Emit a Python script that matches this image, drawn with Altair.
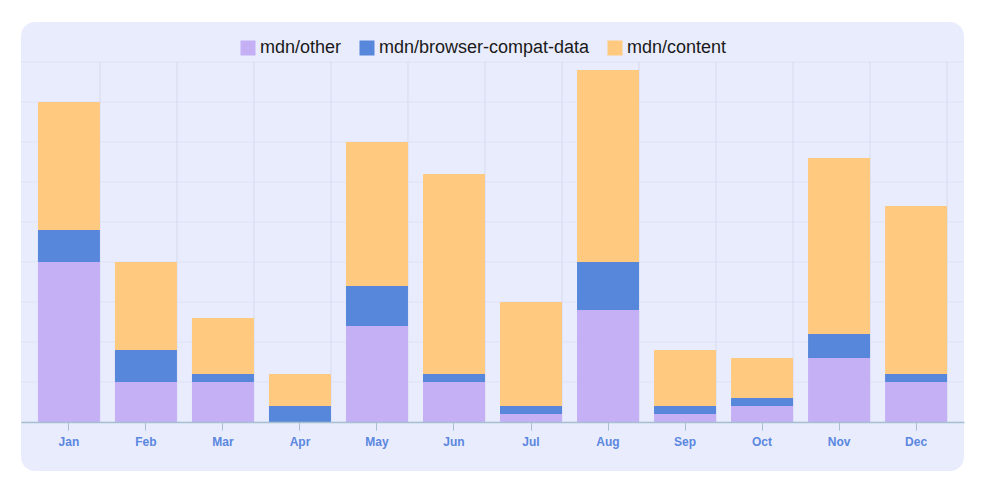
import altair as alt
import pandas as pd

months = ["Jan", "Feb", "Mar", "Apr", "May", "Jun", "Jul", "Aug", "Sep", "Oct", "Nov", "Dec"]
series = ["mdn/other", "mdn/browser-compat-data", "mdn/content"]
other = [20, 5, 5, 0, 12, 5, 1, 14, 1, 2, 8, 5]
bcd = [4, 4, 1, 2, 5, 1, 1, 6, 1, 1, 3, 1]
content = [16, 11, 7, 4, 18, 25, 13, 24, 7, 5, 22, 21]
grid_values = [0, 5, 10, 15, 20, 25, 30, 35, 40, 45]
colors = ["#c5aff5", "#5787da", "#ffca80"]

rows = []
for i, m in enumerate(months):
    for k, (name, vals) in enumerate(zip(series, [other, bcd, content])):
        rows.append({"month": m, "series": name, "value": vals[i], "order": k})
df = pd.DataFrame(rows)

W, H = 943, 360

x_scale = alt.Scale(paddingInner=0.195, paddingOuter=0.22)
y_scale = alt.Scale(domain=[0, 45], nice=False, zero=True)
x_axis = alt.Axis(
    title=None, labelAngle=0, grid=False, tickSize=8, tickColor="#a6bfd1",
    domainColor="#a6bfd1", domainWidth=1.3, labelColor="#5a87df", labelFontSize=12,
    labelFontWeight="bold", labelFont="Liberation Sans", labelPadding=6, zindex=1,
)

bg = alt.Chart(alt.Data(values=[{"a": 1}])).mark_rect(
    color="#e9ecfd", cornerRadius=14
).encode(
    x=alt.value(0), x2=alt.value(W), y=alt.value(-40), y2=alt.value(H + 49)
)

hgrid = alt.Chart(pd.DataFrame({"v": grid_values})).mark_rule(
    color="#dfe2f6", strokeWidth=1
).encode(y=alt.Y("v:Q", scale=y_scale, axis=None))

vgrid = alt.Chart(pd.DataFrame({"month": months})).mark_rule(
    color="#d7daef", strokeWidth=1
).encode(x=alt.X("month:N", sort=months, scale=x_scale, axis=x_axis, bandPosition=1))

bars = alt.Chart(df).mark_bar().encode(
    x=alt.X("month:N", sort=months, scale=x_scale, axis=x_axis),
    y=alt.Y("sum(value):Q", scale=y_scale, axis=None, stack="zero"),
    color=alt.Color(
        "series:N",
        scale=alt.Scale(domain=series, range=colors),
        legend=alt.Legend(
            title=None, orient="none", legendX=218, legendY=-23, direction="horizontal",
            symbolType="square", symbolSize=225, symbolStrokeWidth=0, labelFontSize=18,
            labelFont="Liberation Sans", labelColor="#1a1a1a", columnPadding=16,
            labelOffset=3, padding=0, columns=3, labelLimit=400,
        ),
    ),
    order=alt.Order("order:Q", sort="ascending"),
)

chart = alt.layer(bg, hgrid, vgrid, bars).properties(
    width=W, height=H,
    autosize=alt.AutoSizeParams(type="none"),
    padding={"left": 21, "top": 62, "right": 25, "bottom": 75},
    background="white",
).configure_view(stroke="transparent")

chart.save("out.html", embed_options={"renderer": "svg", "actions": False})
